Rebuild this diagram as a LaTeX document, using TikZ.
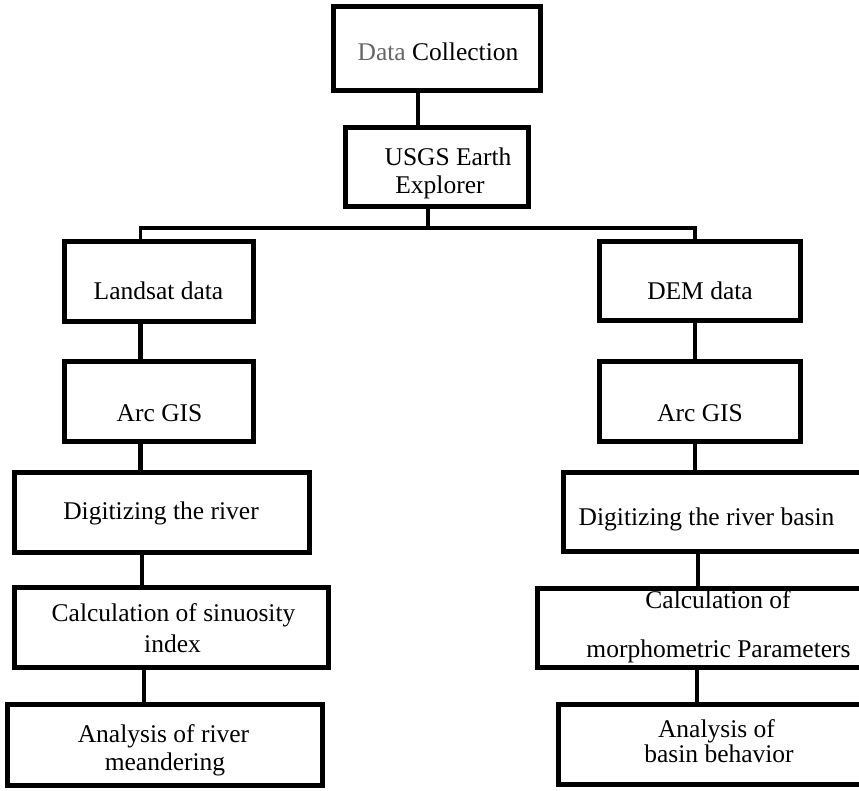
\documentclass[tikz,border=0pt]{standalone}
\usepackage{fontspec}
\setmainfont{Liberation Serif}
\begin{document}
\begin{tikzpicture}[x=1pt,y=-1pt,
  box/.style={draw=black,line width=5pt,rectangle,outer sep=0pt,inner sep=0pt},
  conn/.style={draw=black,line width=4.5pt},
  busline/.style={draw=black,line width=3.5pt,line join=miter},
  lbl/.style={anchor=base,inner sep=0pt,font=\fontsize{25.5}{30}\selectfont}]
\useasboundingbox (0,0) rectangle (859,790);
\clip (0,0) rectangle (859,790);

% positions of the vertical connectors
\coordinate (busL) at (140.5,228);
\coordinate (busR) at (695,228);
\coordinate (busM) at (428,228);
\coordinate (topx) at (418,0);
\coordinate (lx3) at (142,0);
\coordinate (lx4) at (144,0);
\coordinate (rx3) at (698,0);
\coordinate (rx4) at (697,0);

% boxes
\node[box,minimum width=207pt,minimum height=84pt] (dc) at (437,48.5) {};
\node[box,minimum width=183pt,minimum height=79pt] (usgs) at (437,167) {};
\node[box,minimum width=189pt,minimum height=80pt] (landsat) at (159,281.5) {};
\node[box,minimum width=189pt,minimum height=80pt] (arcl) at (159,401.5) {};
\node[box,minimum width=295pt,minimum height=80pt] (digl) at (162,512.5) {};
\node[box,minimum width=314pt,minimum height=80pt] (calcl) at (171.5,627.5) {};
\node[box,minimum width=315pt,minimum height=81pt] (anal) at (165,745) {};
\node[box,minimum width=201pt,minimum height=79pt] (dem) at (700,281) {};
\node[box,minimum width=201pt,minimum height=80pt] (arcr) at (700,401.5) {};
\node[box,minimum width=311.5pt,minimum height=79pt] (digr) at (719.25,512) {};
\node[box,minimum width=362.5pt,minimum height=79.5pt] (calcr) at (718.75,627.75) {};
\node[box,minimum width=302.5pt,minimum height=80.5pt] (anar) at (709.75,744.25) {};

% connectors
\draw[conn] (dc.south -| topx) -- (usgs.north -| topx);
\draw[busline] (usgs.south -| busM) -- (busM);
\draw[busline] (landsat.north -| busL) -- (busL) -- (busR) -- (dem.north -| busR);
\draw[conn] (landsat.south -| busL) -- (arcl.north -| busL);
\draw[conn] (arcl.south -| busL) -- (digl.north -| busL);
\draw[conn] (digl.south -| lx3) -- (calcl.north -| lx3);
\draw[conn] (calcl.south -| lx4) -- (anal.north -| lx4);
\draw[conn] (dem.south -| busR) -- (arcr.north -| busR);
\draw[conn] (arcr.south -| busR) -- (digr.north -| busR);
\draw[conn] (digr.south -| rx3) -- (calcr.north -| rx3);
\draw[conn] (calcr.south -| rx4) -- (anar.north -| rx4);

% texts
\node[lbl] (t-dc) at (438,60) {\textcolor{black!60}{Data} Collection};
\node[lbl] (t-usgs1) at (448,165) {USGS Earth};
\node[lbl] (t-usgs2) at (440,193) {Explorer};
\node[lbl] (t-landsat) at (158.5,299) {Landsat data};
\node[lbl] (t-arcl) at (159.5,421) {Arc GIS};
\node[lbl] (t-dem) at (700,299) {DEM data};
\node[lbl] (t-arcr) at (700,421) {Arc GIS};
\node[lbl] (t-digl) at (161,519) {Digitizing the river};
\node[lbl] (t-digr) at (706.5,525) {Digitizing the river basin};
\node[lbl] (t-calcl1) at (173.5,621) {Calculation of sinuosity};
\node[lbl] (t-calcl2) at (172.5,652) {index};
\node[lbl] (t-anal1) at (163.5,742) {Analysis of river};
\node[lbl] (t-anal2) at (165,770) {meandering};
\node[lbl] (t-calcr1) at (718,608) {Calculation of};
\node[lbl] (t-calcr2) at (718.5,657) {morphometric Parameters};
\node[lbl] (t-anar1) at (716.5,737) {Analysis of};
\node[lbl] (t-anar2) at (719,762) {basin behavior};
\end{tikzpicture}
\end{document}
